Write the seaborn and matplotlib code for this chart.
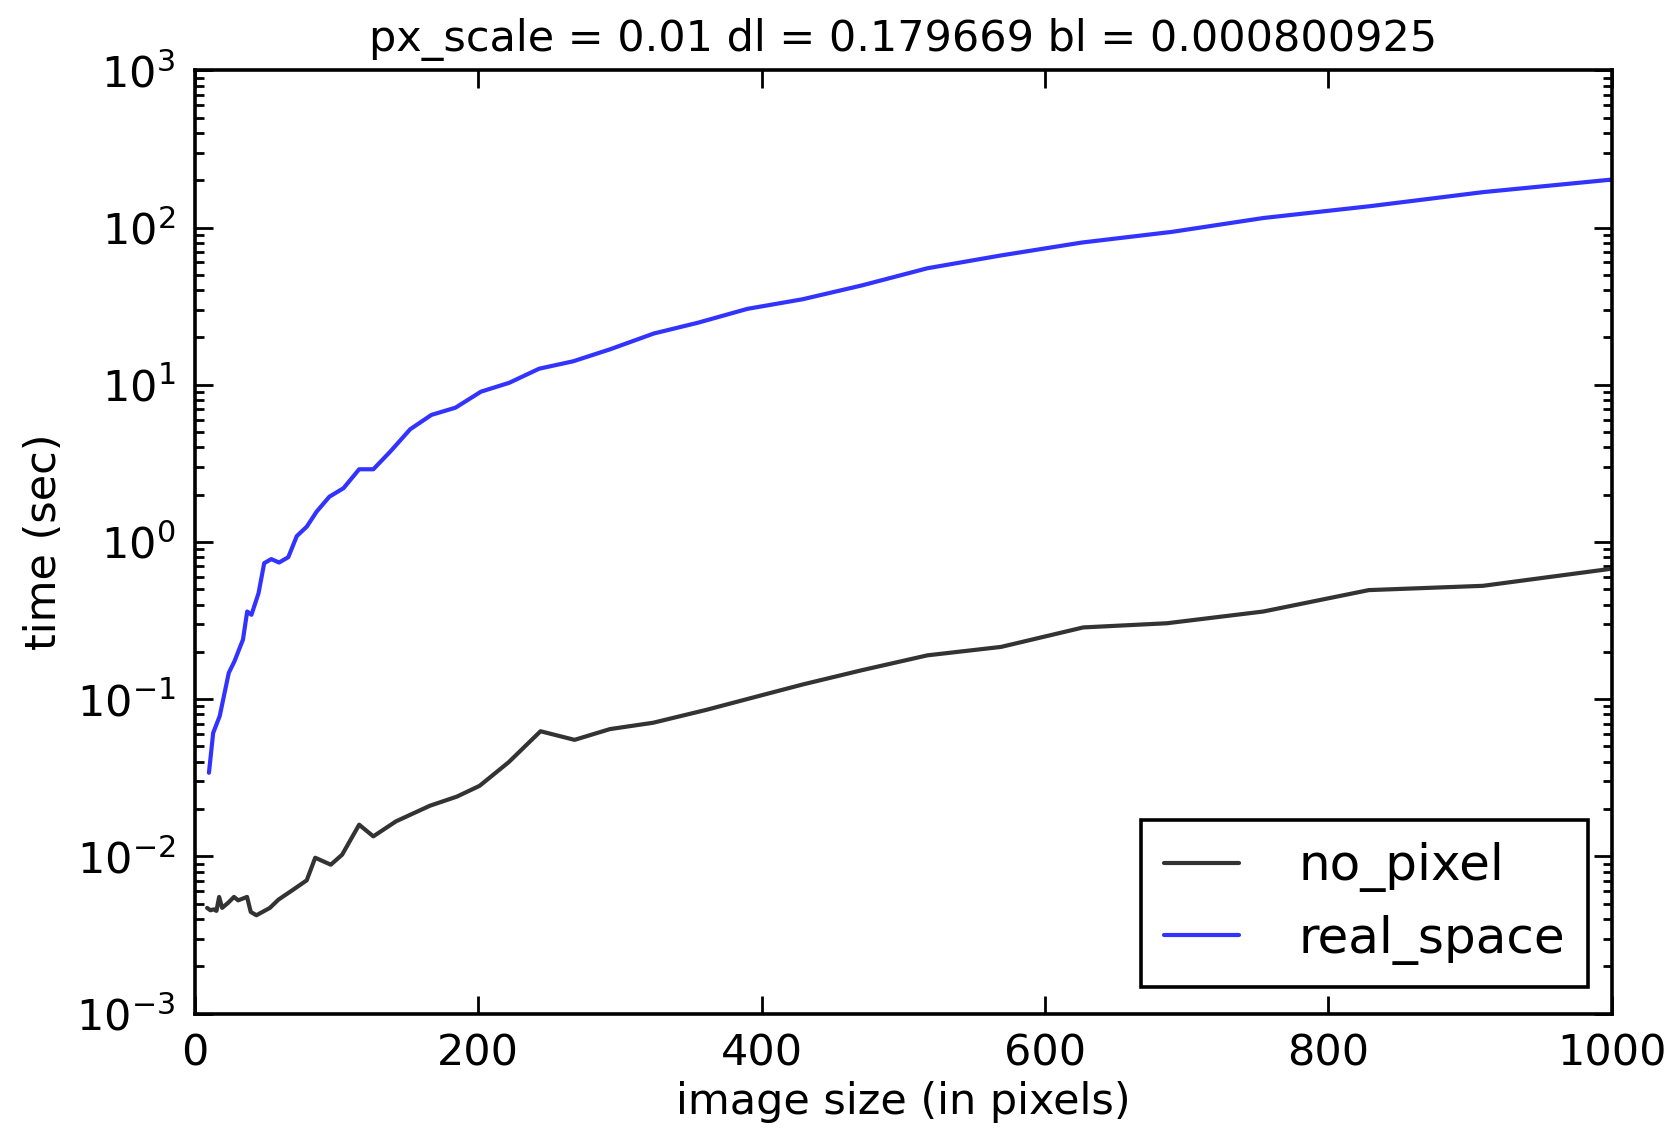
import numpy as np
import pandas as pd
import seaborn as sns
import matplotlib
matplotlib.use("Agg")
import matplotlib.pyplot as plt
from matplotlib.ticker import LogLocator, NullLocator

# values (x = image size, y = time in sec)
no_pixel_x = [8.7, 11, 13.4, 15.3, 17.2, 19.3, 23.5, 27.7, 30.6, 36.9, 39.5, 43.5,
              53, 59, 69, 79, 85, 96, 104, 116, 126, 142, 166, 185, 201, 221.5,
              244, 268, 293, 323.5, 361, 395, 429, 471, 517, 569, 627, 686, 754,
              828.5, 909, 1000]
no_pixel_y = [0.0047, 0.00454, 0.0046, 0.0045, 0.00552, 0.0047, 0.00506, 0.00552,
              0.00525, 0.00552, 0.00443, 0.00422, 0.0047, 0.0053, 0.0061, 0.00704,
              0.0098, 0.00885, 0.01025, 0.0159, 0.0134, 0.0167, 0.021, 0.024, 0.0281,
              0.0397, 0.0625, 0.0551, 0.0645, 0.0708, 0.0855, 0.103, 0.124, 0.153,
              0.19, 0.215, 0.286, 0.304, 0.361, 0.494, 0.526, 0.676]

real_space_x = [10, 13, 17.6, 24, 28, 34, 37, 40, 45, 49, 54, 59.5, 66, 72, 79, 86,
                95, 105, 116, 126, 138, 152, 167, 184, 202, 222, 243, 267, 293, 324,
                355, 390, 429, 471, 517, 569, 626, 690, 754, 830, 909, 1000]
real_space_y = [0.034, 0.061, 0.078, 0.147, 0.174, 0.239, 0.361, 0.344, 0.472, 0.733,
                0.778, 0.74, 0.80, 1.09, 1.25, 1.56, 1.94, 2.20, 2.90, 2.90, 3.76,
                5.21, 6.43, 7.15, 9.04, 10.3, 12.65, 14.1, 16.8, 21.2, 24.8, 30.4,
                35.0, 42.9, 55.1, 66.5, 80.3, 94, 115, 137, 168, 202]

df = pd.concat([
    pd.DataFrame({"size": no_pixel_x, "time": no_pixel_y, "method": "no_pixel"}),
    pd.DataFrame({"size": real_space_x, "time": real_space_y, "method": "real_space"}),
], ignore_index=True)

sns.set_style("ticks")
plt.rcParams["font.family"] = ["DejaVu Sans"]
plt.rcParams["axes.linewidth"] = 1.3
plt.rcParams["axes.unicode_minus"] = False
for k in ["text.color", "axes.labelcolor", "xtick.color", "ytick.color"]:
    plt.rcParams[k] = "black"

fig = plt.figure(figsize=(8.395, 5.675), dpi=200)
ax = fig.add_axes([0.116, 0.107, 0.844, 0.831])

sns.lineplot(data=df, x="size", y="time", hue="method", estimator=None, sort=True,
             palette={"no_pixel": "#333333", "real_space": "#3333ff"},
             linewidth=1.5, ax=ax)

ax.set_yscale("log")
ax.set_xlim(0, 1000)
ax.set_ylim(1e-3, 1e3)
ax.set_xticks([0, 200, 400, 600, 800, 1000])
ax.xaxis.set_minor_locator(NullLocator())
ax.yaxis.set_major_locator(LogLocator(base=10, numticks=10))
ax.yaxis.set_minor_locator(LogLocator(base=10, subs=np.arange(2, 10), numticks=20))
ax.tick_params(which="both", direction="in", top=True, right=True, labelsize=15.5,
               color="black", width=1.0)
ax.tick_params(which="major", length=6.5, pad=7)
ax.tick_params(which="minor", length=3.2)
for s in ax.spines.values():
    s.set_color("black")
    s.set_linewidth(1.3)

ax.set_xlabel("image size (in pixels)", fontsize=15.5, labelpad=2)
ax.set_ylabel("time (sec)", fontsize=15.5)
ax.set_title("px_scale = 0.01 dl = 0.179669 bl = 0.000800925", fontsize=15.5, pad=7)

leg = ax.legend(loc="lower right", fontsize=18, frameon=True, fancybox=False,
                edgecolor="black", framealpha=1, handlelength=1.5,
                handletextpad=1.2, borderpad=0.45, labelspacing=0.45,
                borderaxespad=0, bbox_to_anchor=(0.983, 0.028))
leg.get_frame().set_linewidth(1.3)

fig.savefig("out.png", dpi=200)
